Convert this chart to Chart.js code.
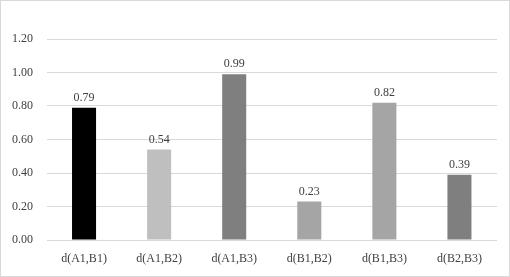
<!DOCTYPE html>
<html>
<head>
<meta charset="utf-8">
<script src="https://cdn.jsdelivr.net/npm/chart.js@4"></script>
<style>
  html, body { margin: 0; padding: 0; background: #fff; }
  #wrap { width: 510px; height: 277px; }
</style>
</head>
<body>
<div id="wrap"><canvas id="distChart" width="510" height="277"></canvas></div>
<script>
// chart data
const categories = ['d(A1,B1)', 'd(A1,B2)', 'd(A1,B3)', 'd(B1,B2)', 'd(B1,B3)', 'd(B2,B3)'];
const distances = [0.79, 0.54, 0.99, 0.23, 0.82, 0.39];
const barColors = ['#000000', '#bfbfbf', '#7f7f7f', '#a5a5a5', '#a5a5a5', '#7f7f7f'];
const yTicks = [0, 0.2, 0.4, 0.6, 0.8, 1.0, 1.2];

const FONT = '"Liberation Serif", "Times New Roman", serif';
const TEXT_COLOR = '#404040';

// white background + light frame round the whole chart
const framePlugin = {
    id: 'frame',
    beforeDraw(chart) {
        const ctx = chart.ctx;
        ctx.save();
        ctx.fillStyle = '#ffffff';
        ctx.fillRect(0, 0, chart.width, chart.height);
        ctx.strokeStyle = '#d9d9d9';
        ctx.lineWidth = 1;
        ctx.strokeRect(0.5, 0.5, chart.width - 1, chart.height - 1);
        ctx.restore();
    }
};

// value labels above each bar
const valueLabels = {
    id: 'valueLabels',
    afterDatasetsDraw(chart) {
        const ctx = chart.ctx;
        const meta = chart.getDatasetMeta(0);
        ctx.save();
        ctx.font = '12px ' + FONT;
        ctx.fillStyle = TEXT_COLOR;
        ctx.textAlign = 'center';
        ctx.textBaseline = 'bottom';
        meta.data.forEach((bar, i) => {
            ctx.fillText(distances[i].toFixed(2), bar.x, bar.y - 4);
        });
        ctx.restore();
    }
};

const ctx = document.getElementById('distChart').getContext('2d');
new Chart(ctx, {
    type: 'bar',
    data: {
        labels: categories,
        datasets: [{
            data: distances,
            backgroundColor: barColors,
            borderWidth: 0,
            barPercentage: 0.32,
            categoryPercentage: 1.0,
        }],
    },
    options: {
        responsive: false,
        animation: false,
        layout: {
            padding: { top: 39, right: 13, left: 0, bottom: 0 },
        },
        plugins: {
            legend: { display: false },
            tooltip: { enabled: false },
        },
        scales: {
            x: {
                grid: { display: false, drawTicks: false },
                border: { display: false },
                ticks: {
                    padding: 12,
                    color: TEXT_COLOR,
                    font: { family: FONT, size: 12 },
                },
                afterFit(scale) { scale.height = 37; },
            },
            y: {
                min: 0,
                max: 1.2,
                afterBuildTicks(scale) {
                    scale.ticks = yTicks.map((v) => ({ value: v }));
                },
                grid: { color: '#d9d9d9', drawTicks: false },
                border: { display: false },
                ticks: {
                    padding: 13.5,
                    color: TEXT_COLOR,
                    font: { family: FONT, size: 12 },
                    callback: (v) => Number(v).toFixed(2),
                },
                afterFit(scale) { scale.width = 46.5; },
            },
        },
    },
    plugins: [framePlugin, valueLabels],
});
</script>
</body>
</html>
